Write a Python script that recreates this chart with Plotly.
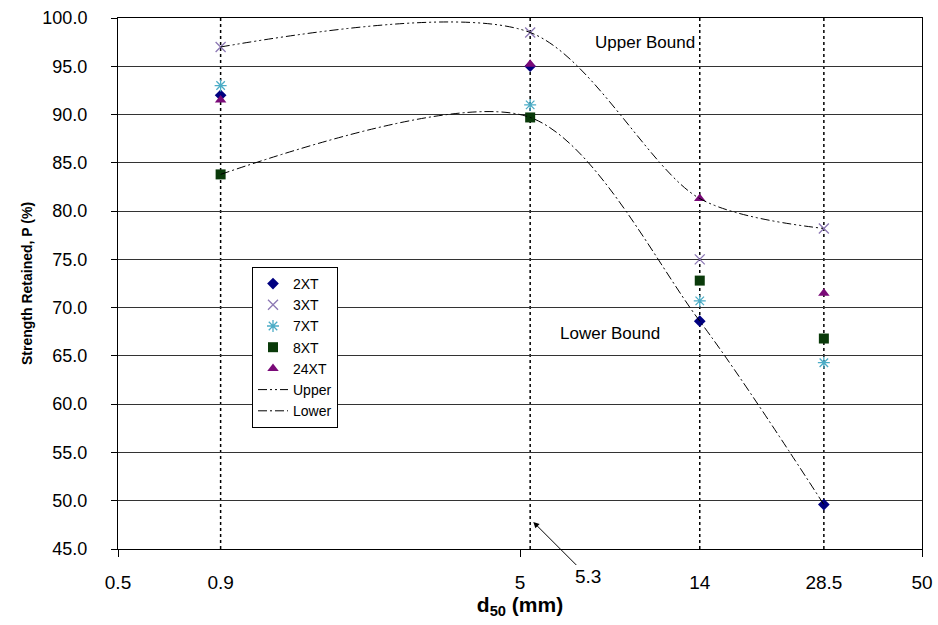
import plotly.graph_objects as go

# ---- data ----
d50 = [0.9, 5.3, 14, 28.5]
series = {
    "2XT": [92.0, 95.0, 68.6, 49.6],
    "3XT": [97.0, 98.5, 75.0, 78.2],
    "7XT": [93.0, 91.0, 70.7, 64.3],
    "8XT": [83.8, 89.7, 72.8, 66.8],
    "24XT": [91.5, 95.2, 81.3, 71.5],
}
upper = [97.0, 98.5, 81.3, 78.2]
lower = [83.8, 89.7, 68.6, 49.6]
x_ticks = [0.5, 0.9, 5, 14, 28.5, 50]
x_major = [0.5, 5, 50]
y_ticks = [45, 50, 55, 60, 65, 70, 75, 80, 85, 90, 95, 100]

FONT = "Liberation Sans, Arial, sans-serif"

styles = {
    "2XT": dict(symbol="diamond", color="#000080", size=9, line=dict(width=0)),
    "3XT": dict(symbol="x-thin-open", color="#8C78B4", size=10, line=dict(width=1.3, color="#8C78B4")),
    "7XT": dict(symbol="asterisk-open", color="#4BACC6", size=10, line=dict(width=1.3, color="#4BACC6")),
    "8XT": dict(symbol="square", color="#0A3A0A", size=10, line=dict(width=0)),
    "24XT": dict(symbol="triangle-up", color="#7A0A78", size=10, line=dict(width=0)),
}

fig = go.Figure()
for name, vals in series.items():
    fig.add_trace(go.Scatter(x=d50, y=vals, mode="markers", name=name,
                             marker=styles[name]))

fig.add_trace(go.Scatter(x=d50, y=upper, mode="lines", name="Upper",
                         line=dict(color="black", width=1, shape="spline", smoothing=0.85,
                                   dash="9px,3px,2px,3px,2px,3px")))
fig.add_trace(go.Scatter(x=d50, y=lower, mode="lines", name="Lower",
                         line=dict(color="black", width=1, shape="spline", smoothing=0.85,
                                   dash="9px,3px,2px,3px")))

# vertical dotted lines at data sizes
for xv in d50:
    fig.add_shape(type="line", x0=xv, x1=xv, y0=0, y1=1, xref="x", yref="paper",
                  line=dict(color="black", width=1.5, dash="dot"), layer="below")

# "5.3" label with arrow pointing at the 5.3 line
fig.add_annotation(x=0.732, y=47.8, xref="x", yref="y", ax=55, ay=55,
                   text="5.3", showarrow=True, arrowhead=2, arrowsize=1.2,
                   arrowwidth=1, arrowcolor="black", standoff=0, startstandoff=0,
                   font=dict(family=FONT, size=19, color="black"))
fig.add_annotation(xref="paper", yref="paper", x=(645 - 118) / 804, y=(549 - 42) / 531,
                   xanchor="center", yanchor="middle",
                   text="Upper Bound", showarrow=False, font=dict(family=FONT, size=17, color="black"))
fig.add_annotation(xref="paper", yref="paper", x=(610 - 118) / 804, y=(549 - 333) / 531,
                   xanchor="center", yanchor="middle",
                   text="Lower Bound", showarrow=False, font=dict(family=FONT, size=17, color="black"))

fig.update_layout(
    width=938, height=625,
    margin=dict(l=118, r=16, t=18, b=76, autoexpand=False),
    paper_bgcolor="white", plot_bgcolor="white",
    font=dict(family=FONT, color="black"),
    showlegend=True,
    legend=dict(x=(252 - 118) / 804, y=(549 - 267) / 531, xanchor="left", yanchor="top",
                bgcolor="white", bordercolor="black", borderwidth=1,
                font=dict(family=FONT, size=14), itemwidth=30, tracegroupgap=0),
    xaxis=dict(type="log", range=[-0.30103, 1.69897], automargin=False,
               tickvals=x_ticks, ticktext=[str(v) for v in x_ticks],
               ticks="", showgrid=False, zeroline=False, ticklabelstandoff=16,
               showline=True, linecolor="black", linewidth=1, mirror=True,
               tickfont=dict(family=FONT, size=19),
               minor=dict(tickvals=x_major, ticks="outside", ticklen=7, tickcolor="black", showgrid=False),
               title=dict(text="<b>d<sub>50</sub> (mm)</b>", font=dict(family=FONT, size=21), standoff=4)),
    yaxis=dict(range=[45, 100], tickvals=y_ticks, tickformat=".1f", automargin=False,
               ticks="outside", ticklen=6, tickcolor="black", ticklabelstandoff=20,
               showgrid=True, gridcolor="#333333", gridwidth=1, zeroline=False,
               showline=True, linecolor="black", linewidth=1, mirror=True,
               tickfont=dict(family=FONT, size=18),
               title=dict(text="<b>Strength Retained, P (%)</b>", font=dict(family=FONT, size=14), standoff=6)),
)

fig.write_html("out.html", config={"displayModeBar": False},
               post_script="document.body.style.margin='0';document.body.style.overflow='hidden';")
